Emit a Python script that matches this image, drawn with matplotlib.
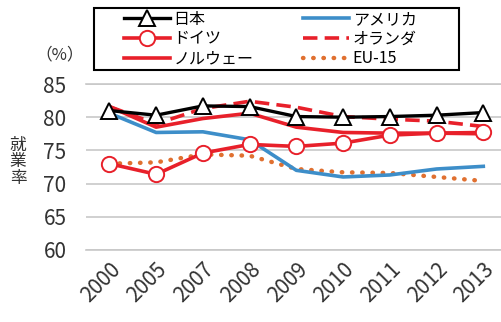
import matplotlib
matplotlib.use("Agg")
from matplotlib import pyplot as plt
from matplotlib.patches import Rectangle
import numpy as np

plt.rcParams['font.family'] = ['Noto Sans CJK JP', 'DejaVu Sans']

years = ["2000", "2005", "2007", "2008", "2009", "2010", "2011", "2012", "2013"]
japan = [81.0, 80.3, 81.7, 81.6, 80.1, 80.0, 80.1, 80.3, 80.7]
usa = [80.6, 77.7, 77.8, 76.6, 72.0, 71.0, 71.3, 72.2, 72.6]
germany = [73.0, 71.4, 74.6, 75.9, 75.6, 76.1, 77.3, 77.6, 77.7]
netherlands = [81.6, 79.0, 81.3, 82.4, 81.5, 80.1, 79.7, 79.4, 78.6]
norway = [81.6, 78.5, 79.8, 80.6, 78.5, 77.7, 77.6, 77.6, 77.5]
eu15 = [73.0, 73.2, 74.4, 74.2, 72.2, 71.7, 71.6, 71.0, 70.4]

red = "#e8202a"
x = np.arange(len(years))

fig = plt.figure(figsize=(5.02, 3.22), dpi=100)
ax = fig.add_axes([86 / 502, 1 - 250 / 322, 1 - 86 / 502, 166 / 322])

l_eu, = ax.plot(x, eu15, color="#e07030", lw=3.2, ls=(0, (0.1, 2.2)),
                dash_capstyle="round", label="EU-15")
l_us, = ax.plot(x, usa, color="#3d8ec9", lw=2.6, label="アメリカ")
l_no, = ax.plot(x, norway, color=red, lw=2.6, label="ノルウェー")
l_nl, = ax.plot(x, netherlands, color=red, lw=2.6, ls=(0, (4, 2)), label="オランダ")
l_de, = ax.plot(x, germany, color=red, lw=2.6, marker="o", ms=11,
                mfc="white", mec=red, mew=1.4, label="ドイツ")
l_jp, = ax.plot(x, japan, color="black", lw=2.4, marker="^", ms=12,
                mfc="white", mec="black", mew=1.4, label="日本")

ax.set_xlim(-0.5, 8.4)
ax.set_ylim(60, 85)
ax.set_yticks([60, 65, 70, 75, 80, 85])
ax.set_xticks(x)
ax.set_xticklabels(years, rotation=45, ha="right", rotation_mode="anchor")
ax.tick_params(axis="both", length=0, labelsize=15, colors="#333333")
ax.tick_params(axis="y", pad=14)
ax.tick_params(axis="x", pad=6)
ax.grid(axis="y", color="#c8c8c8", lw=1.2)
ax.set_axisbelow(True)
for s in ax.spines.values():
    s.set_visible(False)
for yl in [60, 85]:
    ax.axhline(yl, color="#c8c8c8", lw=1.2, clip_on=False, zorder=0)

fig.text(35 / 502, 1 - 55 / 322, "（%）", fontsize=12, ha="left", va="center", color="#333333")
fig.text(0.036, 1 - 162 / 322, "就\n業\n率", fontsize=12, ha="center", va="center",
         color="#333333", linespacing=1.0)

# legend without its own frame, box drawn separately
leg = fig.legend(handles=[l_jp, l_de, l_no, l_us, l_nl, l_eu], ncol=2,
                 loc="upper left", bbox_to_anchor=(116 / 502, 1 - 3 / 322),
                 fontsize=11.5, frameon=False, handlelength=2.9,
                 columnspacing=3.1, labelspacing=0.16, borderpad=0.0,
                 handletextpad=0.2)
fig.add_artist(Rectangle((94 / 502, 1 - 70 / 322), 365 / 502, 62 / 322,
                         transform=fig.transFigure, fill=False,
                         edgecolor="black", lw=1.5))

fig.savefig("out.png", dpi=100)
